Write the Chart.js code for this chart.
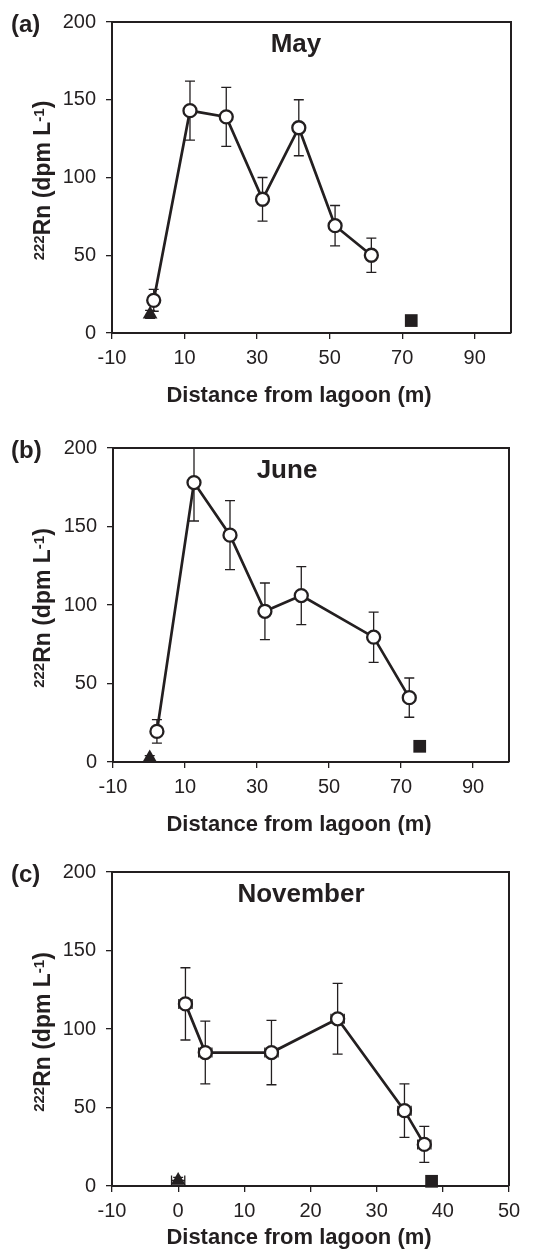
<!DOCTYPE html>
<html>
<head>
<meta charset="utf-8">
<script src="https://cdn.jsdelivr.net/npm/chart.js@4.4.0/dist/chart.umd.min.js"></script>
<style>
  html, body { margin: 0; padding: 0; background: #fff; }
  #wrap { position: relative; width: 555px; height: 1258px; }
  #wrap canvas { position: absolute; left: 0; }
</style>
</head>
<body>
<div id="wrap">
  <canvas id="mayChart" width="555" height="415" style="top:0"></canvas>
  <canvas id="juneChart" width="555" height="420" style="top:415px"></canvas>
  <canvas id="novChart" width="555" height="423" style="top:835px"></canvas>
</div>
<script>
// Radon transects, distance from lagoon (m) vs 222Rn (dpm/L)
const yTicks = [0, 50, 100, 150, 200];
const xTicksSummer = [-10, 10, 30, 50, 70, 90];
const xTicksNov = [-10, 0, 10, 20, 30, 40, 50];

// May
const mayDist = [1.5, 11.5, 21.5, 31.5, 41.5, 51.5, 61.5];
const mayRn = [21, 143, 139, 86, 132, 69, 50];
const mayErr = [7, 19, 19, 14, 18, 13, 11];
const mayTriDist = [0.5];
const mayTriRn = [12];
const mayTriErr = [2.5];
const maySqDist = [72.5];
const maySqRn = [8];

// June
const juneDist = [2.2, 12.5, 22.5, 32.2, 42.3, 62.4, 72.3];
const juneRn = [19.5, 178, 144.5, 96, 106, 79.5, 41];
const juneErr = [7.5, 24.5, 22, 18, 18.5, 16, 12.5];
const juneTriDist = [0.2];
const juneTriRn = [2.5];
const juneTriErr = [1.5];
const juneSqDist = [75.2];
const juneSqRn = [10];

// November
const novDist = [1.1, 4.1, 14.1, 24.1, 34.2, 37.2];
const novRn = [116, 85, 85, 106.5, 48, 26.5];
const novErr = [23, 20, 20.5, 22.5, 17, 11.5];
const novDistErr = [1, 1, 1, 1, 1, 1];
const novTriDist = [0];
const novTriRn = [3.5];
const novTriErr = [2];
const novTriDistErr = [1];
const novSqDist = [38.3];
const novSqRn = [3];

const INK = '#231f20';
const FONT = "'Liberation Sans', Arial, sans-serif";

const toPoints = (xs, ys) => xs.map((x, i) => ({ x: x, y: ys[i] }));

// vertical / horizontal error bars, drawn under the markers
const errorBars = {
    id: 'errorBars',
    beforeDatasetsDraw(chart) {
        const { ctx, chartArea: a, scales: { x, y } } = chart;
        ctx.save();
        ctx.beginPath();
        ctx.rect(a.left, a.top, a.right - a.left, a.bottom - a.top);
        ctx.clip();
        ctx.strokeStyle = INK;
        ctx.lineWidth = 1.3;
        const cap = 5;
        chart.data.datasets.forEach(ds => {
            ds.data.forEach((p, i) => {
                const px = x.getPixelForValue(p.x);
                const py = y.getPixelForValue(p.y);
                const ey = ds.yErr ? ds.yErr[i] : 0;
                const ex = ds.xErr ? ds.xErr[i] : 0;
                ctx.beginPath();
                if (ey) {
                    const t = y.getPixelForValue(p.y + ey);
                    const b = y.getPixelForValue(p.y - ey);
                    ctx.moveTo(px, t); ctx.lineTo(px, b);
                    ctx.moveTo(px - cap, t); ctx.lineTo(px + cap, t);
                    ctx.moveTo(px - cap, b); ctx.lineTo(px + cap, b);
                }
                if (ex) {
                    const l = x.getPixelForValue(p.x - ex);
                    const r = x.getPixelForValue(p.x + ex);
                    ctx.moveTo(l, py); ctx.lineTo(r, py);
                    ctx.moveTo(l, py - cap); ctx.lineTo(l, py + cap);
                    ctx.moveTo(r, py - cap); ctx.lineTo(r, py + cap);
                }
                ctx.stroke();
            });
        });
        ctx.restore();
    }
};

// frame, panel letter, month and axis titles
const decorations = {
    id: 'decorations',
    afterDraw(chart, args, o) {
        const { ctx, chartArea: a } = chart;
        ctx.save();
        ctx.strokeStyle = INK;
        ctx.lineWidth = 2;
        ctx.beginPath();
        ctx.moveTo(a.left, a.top); ctx.lineTo(a.right, a.top); ctx.lineTo(a.right, a.bottom);
        ctx.stroke();

        ctx.fillStyle = INK;
        ctx.textBaseline = 'alphabetic';
        ctx.textAlign = 'left';
        ctx.font = 'bold 24px ' + FONT;
        ctx.fillText(o.letter, 11, a.top + 9.5);

        ctx.textAlign = 'center';
        ctx.font = 'bold 26px ' + FONT;
        ctx.fillText(o.month, o.monthX, a.top + 30);

        ctx.font = 'bold 22px ' + FONT;
        ctx.fillText('Distance from lagoon (m)', 299, a.bottom + o.xTitleGap);

        // rotated y title with superscripts
        const parts = [
            { t: '222', size: 15, rise: 6 },
            { t: 'Rn (dpm L', size: 23, rise: 0 },
            { t: '-1', size: 15, rise: 6 },
            { t: ')', size: 23, rise: 0 }
        ];
        ctx.textAlign = 'left';
        let total = 0;
        parts.forEach(p => {
            ctx.font = 'bold ' + p.size + 'px ' + FONT;
            p.w = ctx.measureText(p.t).width;
            total += p.w;
        });
        ctx.translate(50, (a.top + a.bottom) / 2 + 3);
        ctx.rotate(-Math.PI / 2);
        let cx = -total / 2;
        parts.forEach(p => {
            ctx.font = 'bold ' + p.size + 'px ' + FONT;
            ctx.fillText(p.t, cx, -p.rise);
            cx += p.w;
        });
        ctx.restore();
    }
};

function buildPanel(id, s) {
    const canvas = document.getElementById(id);
    const h = canvas.height;
    return new Chart(canvas, {
        type: 'scatter',
        data: {
            datasets: [
                {
                    data: toPoints(s.dist, s.rn),
                    yErr: s.err,
                    xErr: s.distErr,
                    showLine: true,
                    borderColor: INK,
                    borderWidth: 2.7,
                    pointRadius: 6.5,
                    pointBorderWidth: 2.3,
                    pointBorderColor: INK,
                    pointBackgroundColor: '#fff',
                    clip: false
                },
                {
                    data: toPoints(s.triDist, s.triRn),
                    yErr: s.triErr,
                    xErr: s.triDistErr,
                    pointStyle: 'triangle',
                    pointRadius: 8.5,
                    pointBorderWidth: 0,
                    pointBackgroundColor: INK,
                    clip: false
                },
                {
                    data: toPoints(s.sqDist, s.sqRn),
                    pointStyle: 'rect',
                    pointRadius: 9,
                    pointBorderWidth: 0,
                    pointBackgroundColor: INK,
                    clip: false
                }
            ]
        },
        options: {
            responsive: false,
            animation: false,
            events: [],
            layout: {
                padding: { top: s.box.top, right: 555 - s.box.right, left: 0, bottom: 0 }
            },
            scales: {
                x: {
                    type: 'linear',
                    min: s.xTicks[0],
                    max: s.xMax,
                    afterBuildTicks: sc => { sc.ticks = s.xTicks.map(v => ({ value: v })); },
                    afterFit: sc => { sc.height = h - s.box.bottom; },
                    grid: { drawOnChartArea: false, tickLength: 6, color: INK, lineWidth: 1.3 },
                    border: { color: INK, width: 2 },
                    ticks: { color: INK, padding: 7, font: { family: FONT, size: 20 }, maxRotation: 0 }
                },
                y: {
                    min: 0,
                    max: 200,
                    afterBuildTicks: sc => { sc.ticks = yTicks.map(v => ({ value: v })); },
                    afterFit: sc => { sc.width = s.box.left; },
                    grid: { drawOnChartArea: false, tickLength: 6, color: INK, lineWidth: 1.3 },
                    border: { color: INK, width: 2 },
                    ticks: { color: INK, padding: 10, font: { family: FONT, size: 20 } }
                }
            },
            plugins: {
                legend: { display: false },
                tooltip: { enabled: false },
                decorations: {
                    letter: s.letter,
                    month: s.month,
                    monthX: s.monthX,
                    xTitleGap: s.xTitleGap
                }
            }
        },
        plugins: [errorBars, decorations]
    });
}

buildPanel('mayChart', {
    letter: '(a)', month: 'May', monthX: 296, xTitleGap: 69,
    box: { left: 112, top: 22, right: 511, bottom: 333 },
    xTicks: xTicksSummer, xMax: 100,
    dist: mayDist, rn: mayRn, err: mayErr,
    triDist: mayTriDist, triRn: mayTriRn, triErr: mayTriErr,
    sqDist: maySqDist, sqRn: maySqRn
});

buildPanel('juneChart', {
    letter: '(b)', month: 'June', monthX: 287, xTitleGap: 69,
    box: { left: 113, top: 33, right: 509, bottom: 347 },
    xTicks: xTicksSummer, xMax: 100,
    dist: juneDist, rn: juneRn, err: juneErr,
    triDist: juneTriDist, triRn: juneTriRn, triErr: juneTriErr,
    sqDist: juneSqDist, sqRn: juneSqRn
});

buildPanel('novChart', {
    letter: '(c)', month: 'November', monthX: 301, xTitleGap: 58,
    box: { left: 112, top: 37, right: 509, bottom: 351 },
    xTicks: xTicksNov, xMax: 50,
    dist: novDist, rn: novRn, err: novErr, distErr: novDistErr,
    triDist: novTriDist, triRn: novTriRn, triErr: novTriErr, triDistErr: novTriDistErr,
    sqDist: novSqDist, sqRn: novSqRn
});
</script>
</body>
</html>
